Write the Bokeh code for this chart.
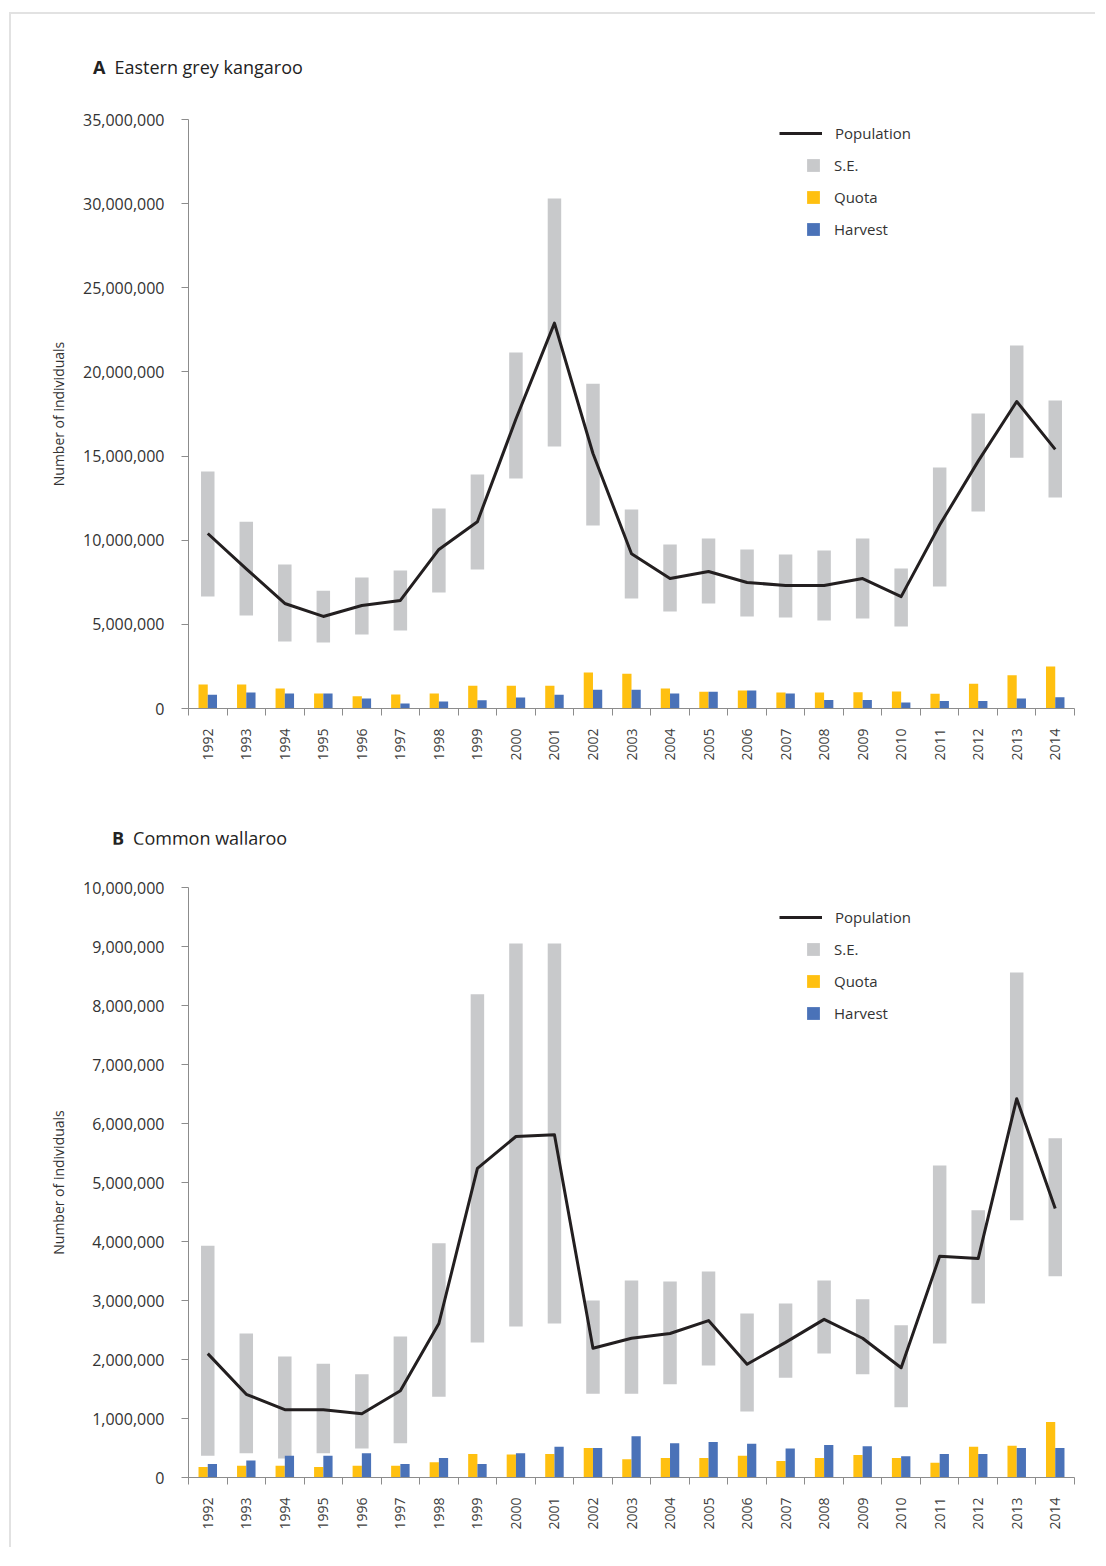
from bokeh.plotting import figure
from bokeh.models import (Range1d, FixedTicker, NumeralTickFormatter, Legend, LegendItem, Div)
from bokeh.layouts import column
from bokeh.embed import file_html
from bokeh.resources import INLINE

years = list(range(1992, 2015))

# A  Eastern grey kangaroo
kang_pop = [10.4e6, 8.3e6, 6.24e6, 5.47e6, 6.12e6, 6.42e6, 9.45e6, 11.1e6, 17.2e6, 22.9e6,
            15.15e6, 9.2e6, 7.72e6, 8.14e6, 7.49e6, 7.31e6, 7.31e6, 7.72e6, 6.65e6, 10.9e6,
            14.7e6, 18.24e6, 15.4e6]
kang_se_hi = [14.08e6, 11.1e6, 8.56e6, 7.0e6, 7.78e6, 8.2e6, 11.88e6, 13.9e6, 21.15e6, 30.3e6,
              19.3e6, 11.82e6, 9.74e6, 10.1e6, 9.45e6, 9.15e6, 9.39e6, 10.1e6, 8.32e6, 14.32e6,
              17.53e6, 21.57e6, 18.3e6]
kang_se_lo = [6.65e6, 5.53e6, 3.98e6, 3.92e6, 4.4e6, 4.63e6, 6.9e6, 8.26e6, 13.67e6, 15.57e6,
              10.87e6, 6.54e6, 5.76e6, 6.24e6, 5.47e6, 5.41e6, 5.23e6, 5.35e6, 4.87e6, 7.25e6,
              11.7e6, 14.9e6, 12.54e6]
kang_quota = [1.43e6, 1.43e6, 1.19e6, 0.89e6, 0.73e6, 0.83e6, 0.89e6, 1.35e6, 1.35e6, 1.35e6,
              2.14e6, 2.06e6, 1.19e6, 0.99e6, 1.07e6, 0.95e6, 0.95e6, 0.97e6, 1.01e6, 0.87e6,
              1.47e6, 1.98e6, 2.5e6]
kang_harvest = [0.81e6, 0.95e6, 0.89e6, 0.89e6, 0.59e6, 0.30e6, 0.42e6, 0.49e6, 0.65e6, 0.81e6,
                1.11e6, 1.11e6, 0.89e6, 0.99e6, 1.07e6, 0.89e6, 0.51e6, 0.51e6, 0.35e6, 0.45e6,
                0.45e6, 0.59e6, 0.67e6]

# B  Common wallaroo
wall_pop = [2.1e6, 1.41e6, 1.15e6, 1.15e6, 1.08e6, 1.47e6, 2.61e6, 5.24e6, 5.78e6, 5.81e6,
            2.19e6, 2.36e6, 2.44e6, 2.66e6, 1.92e6, 2.29e6, 2.68e6, 2.36e6, 1.86e6, 3.75e6,
            3.71e6, 6.42e6, 4.56e6]
wall_se_hi = [3.93e6, 2.44e6, 2.05e6, 1.93e6, 1.75e6, 2.39e6, 3.97e6, 8.19e6, 9.05e6, 9.05e6,
              3.0e6, 3.34e6, 3.32e6, 3.49e6, 2.78e6, 2.95e6, 3.34e6, 3.02e6, 2.58e6, 5.29e6,
              4.53e6, 8.56e6, 5.75e6]
wall_se_lo = [0.37e6, 0.41e6, 0.32e6, 0.41e6, 0.49e6, 0.58e6, 1.37e6, 2.29e6, 2.56e6, 2.61e6,
              1.42e6, 1.42e6, 1.58e6, 1.9e6, 1.12e6, 1.69e6, 2.1e6, 1.75e6, 1.19e6, 2.27e6,
              2.95e6, 4.36e6, 3.41e6]
wall_quota = [0.18e6, 0.2e6, 0.2e6, 0.18e6, 0.2e6, 0.2e6, 0.26e6, 0.4e6, 0.39e6, 0.4e6,
              0.5e6, 0.31e6, 0.33e6, 0.33e6, 0.37e6, 0.28e6, 0.33e6, 0.38e6, 0.33e6, 0.25e6,
              0.52e6, 0.54e6, 0.94e6]
wall_harvest = [0.23e6, 0.29e6, 0.37e6, 0.37e6, 0.41e6, 0.23e6, 0.33e6, 0.23e6, 0.41e6, 0.52e6,
                0.5e6, 0.7e6, 0.58e6, 0.6e6, 0.57e6, 0.49e6, 0.55e6, 0.53e6, 0.36e6, 0.4e6,
                0.4e6, 0.5e6, 0.5e6]

TEXT = "#333333"
AXIS = "#8c8c8c"
SE_COL = "#c8c9cb"
QUOTA_COL = "#ffc010"
HARV_COL = "#4a72b8"
LINE_COL = "#231f20"
FONT = "Open Sans"


def make_chart(pop, se_hi, se_lo, quota, harvest, ymax, ystep,
               top_border, frame_h, bottom_border, leg1_y, leg2_y):
    p = figure(output_backend="svg", toolbar_location=None,
               frame_width=886, frame_height=frame_h,
               min_border_left=177, min_border_right=20,
               min_border_top=top_border, min_border_bottom=bottom_border,
               x_range=Range1d(1991.5, 2014.5), y_range=Range1d(0, ymax),
               background_fill_color="white", border_fill_color="white")
    p.outline_line_color = None
    p.grid.visible = False

    se = p.vbar(x=years, top=se_hi, bottom=se_lo, width=0.35, fill_color=SE_COL, line_color=None)
    qb = p.vbar(x=[y - 0.12 for y in years], top=quota, width=0.24, fill_color=QUOTA_COL, line_color=None)
    hb = p.vbar(x=[y + 0.12 for y in years], top=harvest, width=0.24, fill_color=HARV_COL, line_color=None)
    ln = p.line(x=years, y=pop, line_color=LINE_COL, line_width=3, line_join="round")

    # axes
    xa = p.xaxis[0]
    xa.ticker = FixedTicker(ticks=years, minor_ticks=[y - 0.5 for y in years] + [2014.5])
    xa.major_label_orientation = 1.5707963
    xa.major_tick_out = 0
    xa.major_tick_in = 0
    xa.minor_tick_out = 7
    xa.minor_tick_in = 0
    xa.major_label_standoff = 13
    xa.axis_line_color = AXIS
    xa.minor_tick_line_color = AXIS
    xa.major_label_text_font = FONT
    xa.major_label_text_font_size = "14px"
    xa.major_label_text_color = "#404040"

    ya = p.yaxis[0]
    ya.ticker = FixedTicker(ticks=list(range(0, int(ymax) + 1, int(ystep))))
    ya.formatter = NumeralTickFormatter(format="0,0")
    ya.major_tick_out = 7
    ya.major_tick_in = 0
    ya.minor_tick_out = 0
    ya.minor_tick_in = 0
    ya.major_label_standoff = 17
    ya.axis_line_color = AXIS
    ya.major_tick_line_color = AXIS
    ya.major_label_text_font = FONT
    ya.major_label_text_font_size = "16px"
    ya.major_label_text_color = TEXT
    ya.axis_label = "Number of individuals"
    ya.axis_label_text_font = FONT
    ya.axis_label_text_font_size = "14px"
    ya.axis_label_text_font_style = "normal"
    ya.axis_label_text_color = TEXT
    ya.axis_label_standoff = 12

    leg1 = Legend(items=[LegendItem(label="Population", renderers=[ln])],
                  location=(591, leg1_y), glyph_width=43, glyph_height=20, label_standoff=13,
                  padding=0, margin=0, border_line_color=None, background_fill_alpha=0,
                  label_text_font=FONT, label_text_font_size="15px", label_text_color=TEXT,
                  label_height=20)
    leg2 = Legend(items=[LegendItem(label="S.E.", renderers=[se]),
                         LegendItem(label="Quota", renderers=[qb]),
                         LegendItem(label="Harvest", renderers=[hb])],
                  location=(617, leg2_y), glyph_width=16, glyph_height=16, label_standoff=13,
                  spacing=12, padding=0, margin=0, border_line_color=None, background_fill_alpha=0,
                  label_text_font=FONT, label_text_font_size="15px", label_text_color=TEXT,
                  label_height=20)
    p.add_layout(leg1)
    p.add_layout(leg2)
    return p


def title_div(letter, name, pad_top, pad_left):
    html = ('<div style="padding-top:%dpx; padding-left:%dpx; font-family:\'Open Sans\'; '
            'font-size:18px; line-height:24px; color:#222222; white-space:nowrap;">'
            '<span style="font-weight:bold;">%s</span>'
            '<span style="margin-left:9px;">%s</span></div>') % (pad_top, pad_left, letter, name)
    return Div(text=html, width=1084, height=64, margin=0)


divA = title_div("A", "Eastern grey kangaroo", 41, 82)
pA = make_chart(kang_pop, kang_se_hi, kang_se_lo, kang_quota, kang_harvest,
                35e6, 5e6, 41, 589, 72,
                leg1_y=708 - 143, leg2_y=708 - 239)
divB = title_div("B", "Common wallaroo", 46, 101)
pB = make_chart(wall_pop, wall_se_hi, wall_se_lo, wall_quota, wall_harvest,
                10e6, 1e6, 43, 590, 70,
                leg1_y=1477 - 927, leg2_y=1477 - 1023)

layout = column(divA, pA, divB, pB, margin=(12, 0, 0, 9), spacing=0,
                styles={"border-top": "2px solid #e2e2e2", "border-left": "2px solid #e2e2e2"})

open("out.html", "w").write(file_html(layout, INLINE))
